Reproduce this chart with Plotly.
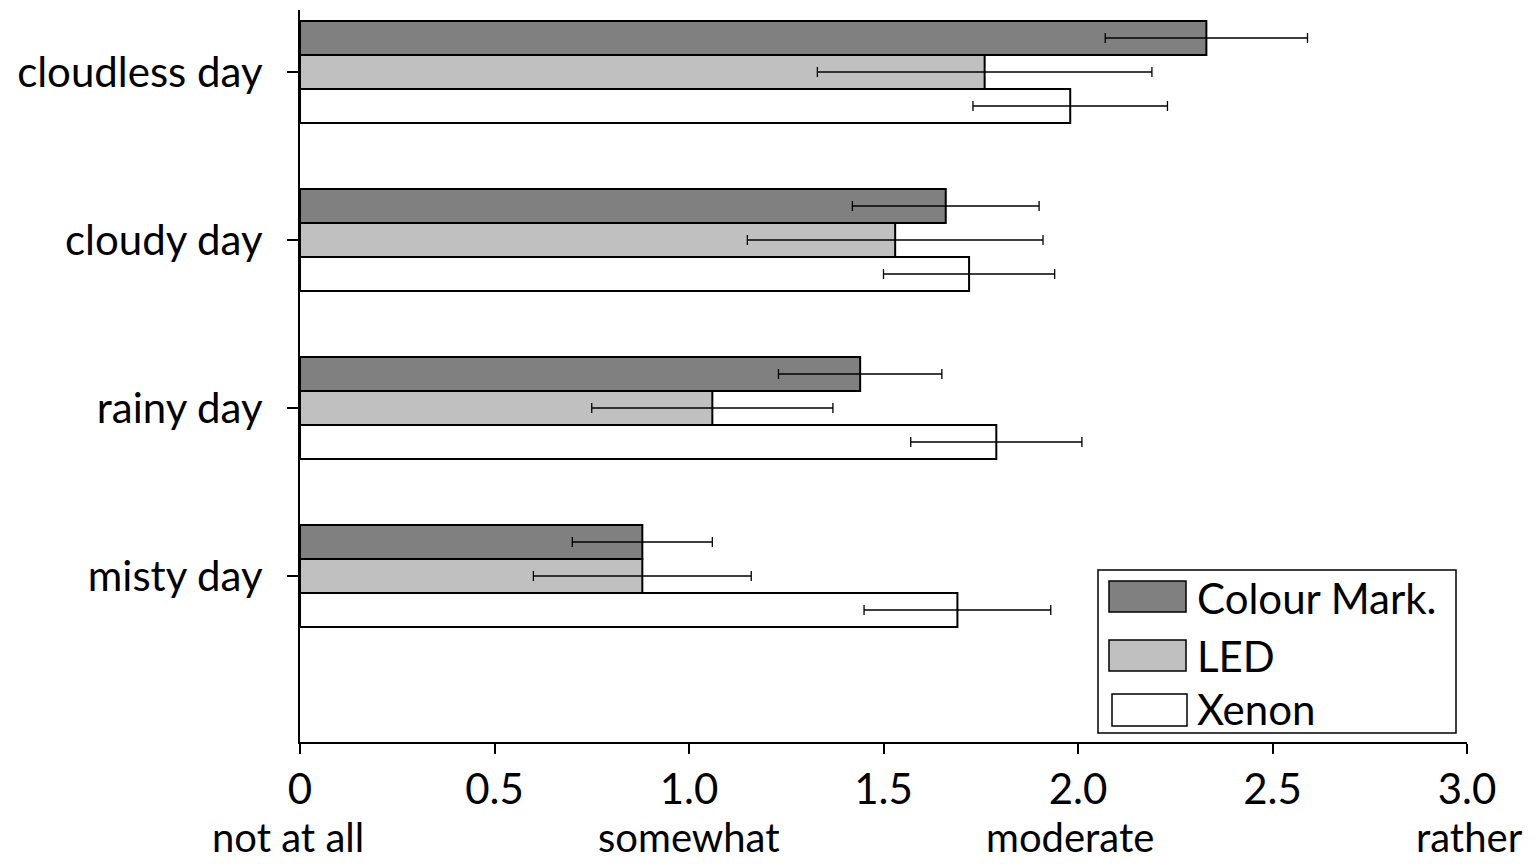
import plotly.graph_objects as go

categories = ["cloudless day", "cloudy day", "rainy day", "misty day"]
series_names = ["Colour Mark.", "LED", "Xenon"]
colour_mark = [2.33, 1.66, 1.44, 0.88]
colour_mark_err = [0.26, 0.24, 0.21, 0.18]
led = [1.76, 1.53, 1.06, 0.88]
led_err = [0.43, 0.38, 0.31, 0.28]
xenon = [1.98, 1.72, 1.79, 1.69]
xenon_err = [0.25, 0.22, 0.22, 0.24]
x_tickvals = [0, 0.5, 1.0, 1.5, 2.0, 2.5, 3.0]
x_ticktext = ["0", "0.5", "1.0", "1.5", "2.0", "2.5", "3.0"]
scale_vals = [0, 1.0, 2.0, 3.0]
scale_text = ["not at all", "somewhat", "moderate", "rather"]
scale_shift = [-12, 0, -8, 2]

colors = ["#808080", "#c0c0c0", "#ffffff"]
FONT = "Lato"
FS = 42

fig = go.Figure()
for name, vals, errs, col in zip(series_names, [colour_mark, led, xenon],
                                 [colour_mark_err, led_err, xenon_err], colors):
    fig.add_trace(go.Bar(
        name=name, y=categories, x=vals, orientation="h",
        marker=dict(color=col, line=dict(color="black", width=2)),
        error_x=dict(type="data", array=errs, visible=True, color="black",
                     thickness=1.3, width=5),
        showlegend=False,
    ))

# page body has an 8px margin, so the figure is sized/offset to compensate
fig.update_layout(
    width=1527, height=856,
    margin=dict(l=292, r=68, t=2, b=122),
    paper_bgcolor="white", plot_bgcolor="white",
    barmode="group", bargap=0.393, bargroupgap=0,
    font=dict(family=FONT, size=FS, color="black"),
    xaxis=dict(range=[0, 3], tickvals=x_tickvals, ticktext=x_ticktext,
               showgrid=False, zeroline=False, showline=True,
               linecolor="black", linewidth=2, ticks="outside",
               ticklen=10, tickwidth=2, tickcolor="black",
               tickfont=dict(family=FONT, size=FS)),
    yaxis=dict(type="category", categoryorder="array", categoryarray=categories,
               range=[3.988, -0.369], showgrid=False, zeroline=False,
               showline=True, linecolor="black", linewidth=2,
               ticks="outside", ticklen=11, tickwidth=2, tickcolor="black",
               ticklabelstandoff=16,
               tickfont=dict(family=FONT, size=FS)),
)

for v, t, s in zip(scale_vals, scale_text, scale_shift):
    fig.add_annotation(x=v, xref="x", y=-(837 - 742) / 732.0, yref="paper", text=t,
                       showarrow=False, yanchor="middle", xanchor="center",
                       xshift=s, borderpad=0,
                       font=dict(family=FONT, size=40, color="black"))

# Custom legend (positions in reference pixels relative to plot area 300..1467 x 10..742)
def px_x(p):
    return (p - 300) / 1167.0

def px_y(p):
    return (742 - p) / 732.0

fig.add_shape(type="rect", xref="paper", yref="paper",
              x0=px_x(1098), x1=px_x(1456), y0=px_y(733), y1=px_y(570),
              line=dict(color="black", width=1.5), fillcolor="white", layer="above")
swatches = [(1109, 1186, 581, 612), (1109, 1186, 640, 671), (1112, 1187, 694, 726)]
text_y = [598, 656, 709]
for (x0, x1, y0, y1), col, name, ty in zip(swatches, colors, series_names, text_y):
    fig.add_shape(type="rect", xref="paper", yref="paper",
                  x0=px_x(x0), x1=px_x(x1), y0=px_y(y1), y1=px_y(y0),
                  line=dict(color="black", width=1.5), fillcolor=col, layer="above")
    fig.add_annotation(x=px_x(1195), xref="paper", y=px_y(ty), yref="paper",
                       text=name, showarrow=False, xanchor="left", yanchor="middle",
                       font=dict(family=FONT, size=FS, color="black"))

fig.write_html("out.html")
